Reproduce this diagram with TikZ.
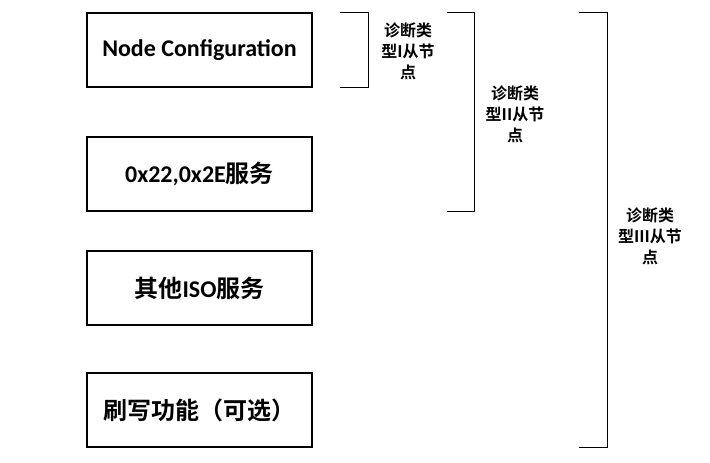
\documentclass[tikz,border=0pt]{standalone}
\usepackage{fontspec}
\setmainfont{Carlito}
\newfontfamily\cjk{Noto Sans CJK SC}[BoldFont={Noto Sans CJK SC Bold}]
\usepackage{tikz}
\usetikzlibrary{positioning}

\begin{document}
\begin{tikzpicture}[x=1pt, y=1pt,
    funcbox/.style={rectangle, draw, line width=1.6pt, fill=white, minimum width=225pt, minimum height=74pt, inner sep=0pt, align=center, font=\fontsize{24}{28}\selectfont\bfseries},
    brk/.style={draw, line width=1.3pt},
    grp/.style={align=center, inner sep=0pt, font=\fontsize{16}{21}\selectfont\cjk\bfseries}]
    \useasboundingbox (0,0) rectangle (710,-463);

    \node[funcbox] (cfg) at (199.5,-50) {Node Configuration};
    \node[funcbox, below=48.4pt of cfg] (svc) {0x22,0x2E{\cjk 服务}};
    \node[funcbox, below=38.4pt of svc] (iso) {{\cjk 其他}ISO{\cjk 服务}};
    \node[funcbox, below=46.4pt of iso] (flash) {\cjk 刷写功能（可选）};

    % brackets: type I / II / III slave node
    \draw[brk] ([xshift=27pt]cfg.north east) -- ([xshift=56pt]cfg.north east) -- ([xshift=56pt]cfg.south east) -- ([xshift=27pt]cfg.south east);
    \draw[brk] ([xshift=134pt]cfg.north east) -- ([xshift=162pt]cfg.north east) -- ([xshift=162pt]svc.south east) -- ([xshift=134pt]svc.south east);
    \draw[brk] ([xshift=266pt]cfg.north east) -- ([xshift=295pt]cfg.north east) -- ([xshift=295pt]flash.south east) -- ([xshift=266pt]flash.south east);

    \node[grp] (t1) at (408,-51) {诊断类\\型I从节\\点};
    \node[grp] (t2) at (515,-114) {诊断类\\型II从节\\点};
    \node[grp] (t3) at (650,-236) {诊断类\\型III从节\\点};
\end{tikzpicture}
\end{document}
